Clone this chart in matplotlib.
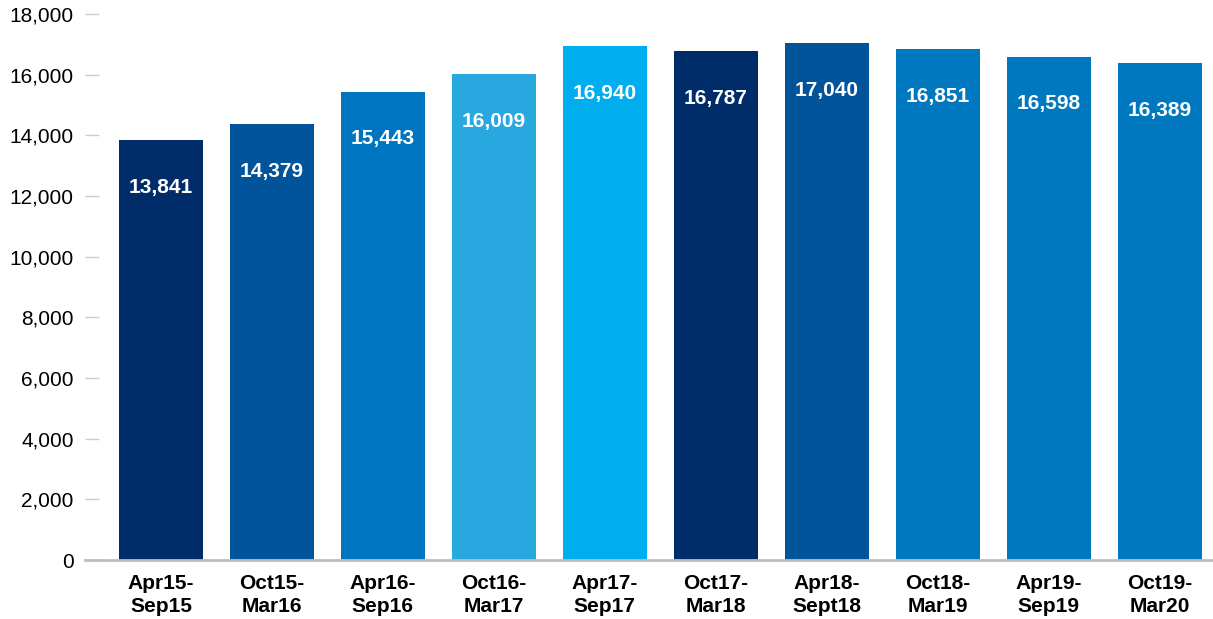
import numpy as np
import matplotlib
matplotlib.use("Agg")
import matplotlib.pyplot as plt

plt.rcParams['font.family'] = ['Liberation Sans', 'DejaVu Sans']

periods = ["Apr15-\nSep15", "Oct15-\nMar16", "Apr16-\nSep16", "Oct16-\nMar17", "Apr17-\nSep17",
           "Oct17-\nMar18", "Apr18-\nSept18", "Oct18-\nMar19", "Apr19-\nSep19", "Oct19-\nMar20"]
values = [13841, 14379, 15443, 16009, 16940, 16787, 17040, 16851, 16598, 16389]
colors = ["#002D6A", "#01539A", "#0075BF", "#29A8E0", "#00AEEF",
          "#002D6A", "#01539A", "#0078C0", "#0078C0", "#0078C0"]
yticks = np.arange(0, 18001, 2000)

fig = plt.figure(figsize=(12.13, 6.19), dpi=100)
ax = fig.add_axes([0.070, 0.0953, 0.930, 0.882])

x = np.arange(len(values))
bars = ax.bar(x, values, width=0.76, color=colors, zorder=2)

for rect, v in zip(bars, values):
    ax.annotate(f"{v:,}", (rect.get_x() + rect.get_width() / 2, v),
                xytext=(0, -34), textcoords="offset points",
                ha="center", va="center", color="white",
                fontsize=15, fontweight="bold")

ax.set_xlim(-0.685, 9.48)
ax.set_ylim(0, 18000)
ax.set_yticks(yticks)
ax.set_yticklabels([f"{t:,}" for t in yticks], fontsize=15)
ax.set_xticks(x)
ax.set_xticklabels(periods, fontsize=15, fontweight="bold", linespacing=1.25)

for s in ["top", "right", "left"]:
    ax.spines[s].set_visible(False)
ax.spines["bottom"].set_color("#bdbdbd")
ax.spines["bottom"].set_linewidth(2)
ax.spines["bottom"].set_zorder(3)

ax.tick_params(axis="y", direction="in", length=10, width=1, color="#cccccc", pad=8)
ax.tick_params(axis="x", length=0, pad=10)

fig.savefig("out.png", dpi=100)
